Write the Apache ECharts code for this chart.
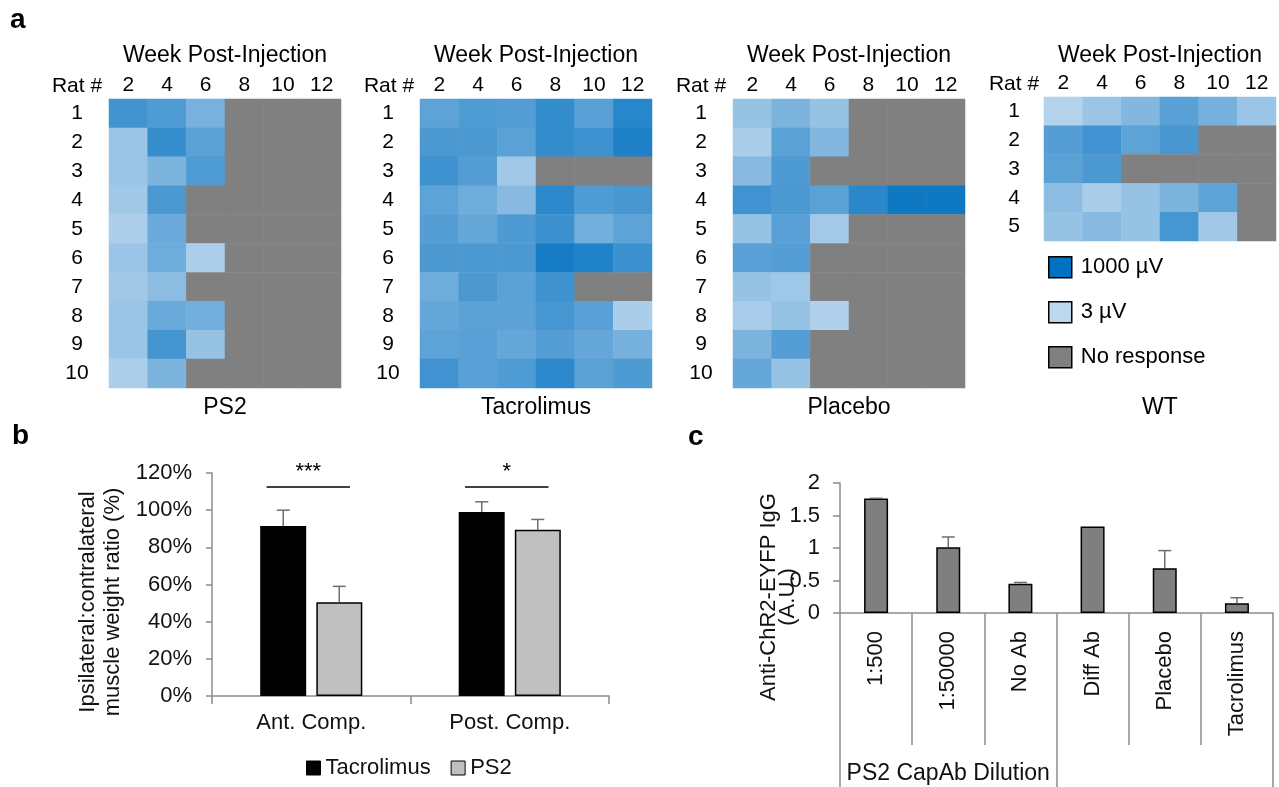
<!DOCTYPE html>
<html><head><meta charset="utf-8">
<script src="https://cdn.jsdelivr.net/npm/echarts@6/dist/echarts.min.js"></script>
<style>html,body{margin:0;padding:0;background:#fff}#c{width:1279px;height:787px}</style>
</head><body><div id="c"></div>
<script>
const FONT = "'Liberation Sans', Arial, Helvetica, sans-serif";

// ---------- Panel a: heat maps (peak amplitude in µV, 0 = no response) ----------
const weeks = ['2', '4', '6', '8', '10', '12'];
const ratsTen = ['1', '2', '3', '4', '5', '6', '7', '8', '9', '10'];
const ratsFive = ['1', '2', '3', '4', '5'];
const groupNames = ['PS2', 'Tacrolimus', 'Placebo', 'WT'];

const ampPS2 = [
  [131, 87, 25, 0, 0, 0],
  [8.5, 185, 62, 0, 0, 0],
  [8.5, 22, 87, 0, 0, 0],
  [7, 98, 0, 0, 0, 0],
  [5, 37, 0, 0, 0, 0],
  [8.5, 34, 5, 0, 0, 0],
  [7, 13.5, 0, 0, 0, 0],
  [8.5, 39, 29, 0, 0, 0],
  [8.5, 125, 10, 0, 0, 0],
  [5, 22, 0, 0, 0, 0]
];
const ampTac = [
  [55, 87, 78, 210, 65, 295],
  [98, 98, 62, 210, 150, 395],
  [150, 73, 7, 0, 0, 0],
  [55, 34, 16, 250, 87, 110],
  [73, 46, 92, 156, 29, 55],
  [98, 98, 98, 498, 370, 156],
  [34, 98, 62, 150, 0, 0],
  [46, 58, 58, 118, 65, 5.4],
  [55, 65, 46, 73, 46, 27],
  [140, 65, 87, 250, 62, 92]
];
const ampPlacebo = [
  [10, 22, 10, 0, 0, 0],
  [5.4, 62, 18, 0, 0, 0],
  [16, 92, 0, 0, 0, 0],
  [140, 98, 62, 278, 650, 650],
  [10, 65, 6.5, 0, 0, 0],
  [65, 73, 0, 0, 0, 0],
  [10, 7.6, 0, 0, 0, 0],
  [5.7, 10, 4.5, 0, 0, 0],
  [22, 73, 0, 0, 0, 0],
  [46, 10, 0, 0, 0, 0]
];
const ampWT = [
  [4, 8.5, 18, 65, 27, 8.5],
  [73, 140, 55, 110, 0, 0],
  [62, 98, 0, 0, 0, 0],
  [13, 5.4, 10, 22, 55, 0],
  [10, 16, 10, 118, 7, 0]
];
const scaleLabels = ['1000 µV', '3 µV', 'No response'];
const scaleRange = [3, 1000];

// ---------- Panel b: muscle weight ratio (%) ----------
const compartments = ['Ant. Comp.', 'Post. Comp.'];
const ratioTac = [91.5, 99];
const ratioTacErr = [8.5, 5.5];
const ratioPS2 = [50.5, 89.5];
const ratioPS2Err = [8.5, 5.5];
const sigMarks = ['***', '*'];
const sigLevel = [112.5, 112.5];

// ---------- Panel c: anti-ChR2-EYFP IgG (A.U.) ----------
const igGroups = ['1:500', '1:50000', 'No Ab', 'Diff Ab', 'Placebo', 'Tacrolimus'];
const igValues = [1.76, 1.01, 0.45, 1.33, 0.69, 0.15];
const igErr = [0.005, 0.16, 0.02, 0, 0.27, 0.085];
const igSuper = ['PS2 CapAb Dilution', ''];

// ---------- build ----------
const heatData = [ampPS2, ampTac, ampPlacebo, ampWT];
const heatRows = [ratsTen, ratsTen, ratsTen, ratsFive];
const heatLeft = [109, 420, 733, 1044];
const heatTop = [99, 99, 99, 97];
const heatH = [289, 289, 289, 144];
const rowMargin = [32, 32, 32, 30];

function cells(m) {
  const out = [];
  m.forEach((row, r) => row.forEach((v, c) => out.push([c, r, v > 0 ? Math.log10(v) : -1])));
  return out;
}

const grids = [], xAxes = [], yAxes = [], series = [], graphics = [];
const black = '#000';

for (let i = 0; i < 4; i++) {
  grids.push({ left: heatLeft[i], top: heatTop[i], width: 232, height: heatH[i] });
}
grids.push({ left: 212, top: 473, width: 397, height: 223 });   // b
grids.push({ left: 840, top: 483, width: 433, height: 130 });   // c

for (let i = 0; i < 4; i++) {
  xAxes.push({
    type: 'category', gridIndex: i, data: weeks, position: 'top',
    axisLine: { show: false }, axisTick: { show: false }, splitLine: { show: false },
    axisLabel: { color: black, fontSize: 21, margin: 3, fontFamily: FONT },
    name: 'Week Post-Injection', nameLocation: 'middle', nameGap: heatTop[i] - 67,
    nameTextStyle: { color: black, fontSize: 23, fontFamily: FONT }
  });
}
for (let i = 0; i < 4; i++) {
  xAxes.push({
    type: 'category', gridIndex: i, data: weeks, position: 'bottom',
    axisLine: { show: false }, axisTick: { show: false }, axisLabel: { show: false },
    name: groupNames[i], nameLocation: 'middle', nameGap: 396 - (heatTop[i] + heatH[i]),
    nameTextStyle: { color: black, fontSize: 23, fontFamily: FONT }
  });
}
// b x axis (index 8)
xAxes.push({
  type: 'category', gridIndex: 4, data: compartments,
  axisLine: { lineStyle: { color: '#8c8c8c', width: 1.5 } },
  axisTick: { show: true, length: 8, interval: 0, lineStyle: { color: '#8c8c8c', width: 1.5 } },
  axisLabel: { color: '#111', fontSize: 22, margin: 16, fontFamily: FONT }
});
// c x axis (index 9)
xAxes.push({
  type: 'category', gridIndex: 5, data: igGroups,
  axisLine: { lineStyle: { color: '#8c8c8c', width: 1.5 } },
  axisTick: { show: true, length: 132, interval: 0, lineStyle: { color: '#8c8c8c', width: 1.5 } },
  axisLabel: { color: '#111', fontSize: 22, margin: 18, rotate: 90, interval: 0, fontFamily: FONT }
});
// c super-category axis (index 10)
xAxes.push({
  type: 'category', gridIndex: 5, data: igSuper, position: 'bottom',
  axisLine: { show: false },
  axisTick: { show: true, length: 176, interval: 0, lineStyle: { color: '#8c8c8c', width: 1.5 } },
  axisLabel: { color: '#111', fontSize: 23, margin: 149, interval: 0, fontFamily: FONT }
});

for (let i = 0; i < 4; i++) {
  yAxes.push({
    type: 'category', gridIndex: i, data: heatRows[i], inverse: true,
    axisLine: { show: false }, axisTick: { show: false }, splitLine: { show: false },
    axisLabel: { color: black, fontSize: 21, margin: rowMargin[i], align: 'center', fontFamily: FONT }
  });
}
yAxes.push({
  type: 'value', gridIndex: 4, min: 0, max: 120, interval: 20,
  axisLine: { show: true, lineStyle: { color: '#8c8c8c', width: 1.5 } },
  axisTick: { show: true, length: 6, lineStyle: { color: '#8c8c8c', width: 1.5 } },
  splitLine: { show: false },
  axisLabel: { color: '#111', fontSize: 22, margin: 20, formatter: '{value}%', fontFamily: FONT }
});
yAxes.push({
  type: 'value', gridIndex: 5, min: 0, max: 2, interval: 0.5,
  axisLine: { show: true, lineStyle: { color: '#8c8c8c', width: 1.5 } },
  axisTick: { show: true, length: 7, lineStyle: { color: '#8c8c8c', width: 1.5 } },
  splitLine: { show: false },
  axisLabel: { color: '#111', fontSize: 22, margin: 20, fontFamily: FONT }
});

for (let i = 0; i < 4; i++) {
  series.push({
    type: 'heatmap', name: groupNames[i] + ' map', xAxisIndex: i, yAxisIndex: i,
    data: cells(heatData[i]), emphasis: { disabled: true }, itemStyle: { borderWidth: 0 }
  });
}
// legend proxies for the colour key
const keyColors = ['#0070C0', '#BDD7EE', '#808080'];
scaleLabels.forEach((n, k) => series.push({
  type: 'scatter', name: n, xAxisIndex: 3, yAxisIndex: 3, data: [],
  itemStyle: { color: keyColors[k], borderColor: '#000', borderWidth: 1.5, opacity: 1 }
}));

// b bars
series.push({
  type: 'bar', name: 'Tacrolimus', xAxisIndex: 8, yAxisIndex: 4, data: ratioTac,
  barWidth: 46, barGap: '22%',
  itemStyle: { color: '#000', borderColor: '#000', borderWidth: 1.5 }
});
series.push({
  type: 'bar', name: 'PS2', xAxisIndex: 8, yAxisIndex: 4, data: ratioPS2,
  barWidth: 46, barGap: '22%',
  itemStyle: { color: '#C0C0C0', borderColor: '#000', borderWidth: 1.5 }
});

function errRender(offsets) {
  return function (params, api) {
    const v = api.value(1), e = api.value(2);
    if (!e) return null;
    const base = api.coord([api.value(0), v]);
    const top = api.coord([api.value(0), v + e]);
    const x = base[0] + (offsets ? offsets[api.value(3)] : 0);
    const st = { stroke: '#6e6e6e', lineWidth: 1.5 };
    return { type: 'group', children: [
      { type: 'line', shape: { x1: x, y1: base[1], x2: x, y2: top[1] }, style: st },
      { type: 'line', shape: { x1: x - 6.5, y1: top[1], x2: x + 6.5, y2: top[1] }, style: st }
    ] };
  };
}
const errBData = [];
ratioTac.forEach((v, i) => errBData.push([i, v, ratioTacErr[i], 0]));
ratioPS2.forEach((v, i) => errBData.push([i, v, ratioPS2Err[i], 1]));
series.push({
  type: 'custom', name: 'errB', xAxisIndex: 8, yAxisIndex: 4, data: errBData,
  renderItem: errRender([-28, 28]), z: 5, silent: true
});
series.push({
  type: 'custom', name: 'sig', xAxisIndex: 8, yAxisIndex: 4, clip: false, silent: true, z: 5,
  data: sigLevel.map((v, i) => [i, v, i]),
  renderItem: function (params, api) {
    const c = api.coord([api.value(0), api.value(1)]);
    const half = api.size([1, 0])[0] * 0.21;
    const cx = c[0] - 3;
    return { type: 'group', children: [
      { type: 'line', shape: { x1: cx - half, y1: c[1], x2: cx + half, y2: c[1] }, style: { stroke: '#000', lineWidth: 1.5 } },
      { type: 'text', x: cx, y: c[1] - 4, style: { text: sigMarks[api.value(2)], align: 'center', verticalAlign: 'bottom', fontSize: 22, fontFamily: FONT, fill: '#000' } }
    ] };
  }
});

// c bars
series.push({
  type: 'bar', name: 'IgG', xAxisIndex: 9, yAxisIndex: 5, data: igValues, barWidth: 24,
  itemStyle: { color: '#7F7F7F', borderColor: '#000', borderWidth: 1.5 }
});
series.push({
  type: 'custom', name: 'errC', xAxisIndex: 9, yAxisIndex: 5, silent: true, z: 5,
  data: igValues.map((v, i) => [i, v, igErr[i]]),
  renderItem: errRender(null)
});

// texts
graphics.push({ type: 'text', x: 10, y: 20, style: { text: 'a', fontSize: 28, fontWeight: 'bold', fontFamily: FONT, fill: '#000', verticalAlign: 'middle' } });
graphics.push({ type: 'text', x: 12, y: 436, style: { text: 'b', fontSize: 28, fontWeight: 'bold', fontFamily: FONT, fill: '#000', verticalAlign: 'middle' } });
graphics.push({ type: 'text', x: 688, y: 437, style: { text: 'c', fontSize: 28, fontWeight: 'bold', fontFamily: FONT, fill: '#000', verticalAlign: 'middle' } });
const ratX = [77, 389, 701, 1014];
const ratY = [86, 86, 86, 84];
for (let i = 0; i < 4; i++) {
  graphics.push({ type: 'text', x: ratX[i], y: ratY[i], style: { text: 'Rat #', fontSize: 21, fontFamily: FONT, fill: '#000', align: 'center', verticalAlign: 'middle' } });
}
graphics.push({ type: 'text', x: 100.5, y: 602, rotation: Math.PI / 2, style: { text: 'Ipsilateral:contralateral\nmuscle weight ratio (%)', fontSize: 22, lineHeight: 25, fontFamily: FONT, fill: '#111', align: 'center', verticalAlign: 'middle' } });
graphics.push({ type: 'text', x: 778, y: 597, rotation: Math.PI / 2, style: { text: 'Anti-ChR2-EYFP IgG\n(A.U.)', fontSize: 22, lineHeight: 19, fontFamily: FONT, fill: '#111', align: 'center', verticalAlign: 'middle' } });

const option = {
  animation: false,
  backgroundColor: '#fff',
  textStyle: { fontFamily: FONT },
  grid: grids, xAxis: xAxes, yAxis: yAxes, series: series, graphic: graphics,
  visualMap: {
    type: 'continuous', show: false, seriesIndex: [0, 1, 2, 3],
    min: Math.log10(scaleRange[0]), max: Math.log10(scaleRange[1]),
    range: [Math.log10(scaleRange[0]) + 0.001, Math.log10(scaleRange[1])],
    inRange: { color: ['#BDD7EE', '#0070C0'] },
    outOfRange: { color: '#808080' }
  },
  legend: [
    {
      data: [
        { name: 'Tacrolimus', itemStyle: { color: '#000', borderColor: '#000', borderWidth: 1, opacity: 1 } },
        { name: 'PS2', itemStyle: { color: '#C0C0C0', borderColor: '#000', borderWidth: 1, opacity: 1 } }
      ],
      left: 306, top: 757, orient: 'horizontal', icon: 'rect', itemWidth: 14, itemHeight: 14, itemGap: 20,
      padding: 0, selectedMode: false,
      textStyle: { fontSize: 22, color: '#111', fontFamily: FONT, padding: [0, 0, 0, 0] }
    },
    {
      data: scaleLabels.map((n, k) => ({ name: n, itemStyle: { color: keyColors[k], borderColor: '#000', borderWidth: 1.5, opacity: 1 } })),
      left: 1048, top: 256, orient: 'vertical', icon: 'rect', itemWidth: 23, itemHeight: 21, itemGap: 22.5,
      padding: 0, selectedMode: false,
      textStyle: { fontSize: 22, color: '#000', fontFamily: FONT, padding: [0, 0, 0, 4] }
    }
  ]
};
const chart = echarts.init(document.getElementById('c'), null, { renderer: 'canvas' });
chart.setOption(option);
</script>
</body></html>
